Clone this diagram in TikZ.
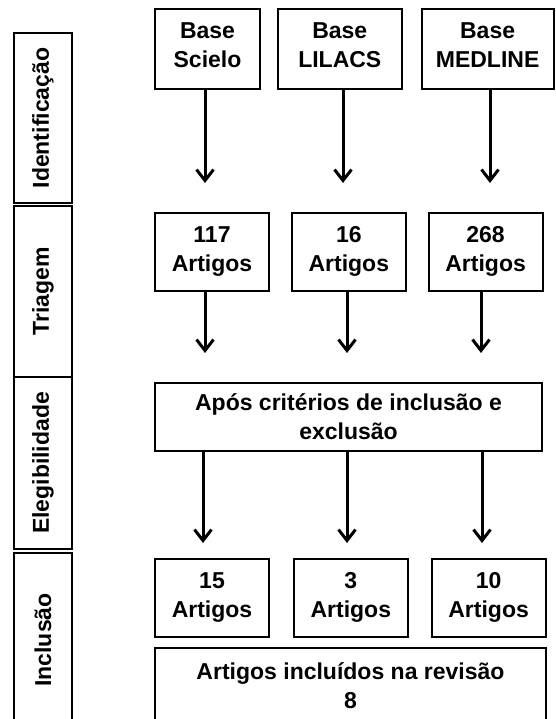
\documentclass[tikz,border=0pt]{standalone}
\usepackage{fontspec}
\setmainfont{Liberation Sans}
\usetikzlibrary{positioning,arrows.meta}
\tikzset{
	caixa/.style={draw, rectangle, line width=1.8pt, align=center, inner sep=0pt,
		font=\bfseries\fontsize{23}{29}\selectfont},
	artigo/.style={caixa, minimum width=114pt, minimum height=78pt, text height=46pt, text depth=8pt},
	etapa/.style={caixa, rotate=90, minimum height=58pt},
	seta/.style={line width=3pt, -{Straight Barb[length=11pt,width=17pt]}}
}
\begin{document}
\begin{tikzpicture}[x=1pt, y=-1pt, node distance=18pt and 20pt]
	\useasboundingbox (0,0) rectangle (555,719);
	\clip (0,0) rectangle (555,719);
	% Etapas a esquerda
	\node[etapa, minimum width=170pt] (ident) at (43,118) {Identificação};
	\node[etapa, minimum width=171pt] (triag) at (43,291.5) {Triagem};
	\node[etapa, minimum width=172pt] (eleg) at (43,463) {Elegibilidade};
	\node[etapa, minimum width=174pt] (incl) at (43,640) {Inclusão};
	%
	% Bases de dados
	\node[artigo, minimum width=105pt, minimum height=80pt] (scielo) at (207.5,49) {Base\\Scielo};
	\node[artigo, minimum width=124pt, minimum height=80pt, right=16pt of scielo] (lilacs) {Base\\LILACS};
	\node[artigo, minimum width=132pt, minimum height=80pt, right=18pt of lilacs] (medline) {Base\\MEDLINE};
	%
	% Triagem
	\node[artigo] (n117) at (212,252) {117\\Artigos};
	\node[artigo, right=21pt of n117] (n16) {16\\Artigos};
	\node[artigo, right=21pt of n16] (n268) {268\\Artigos};
	%
	% Elegibilidade
	\node[caixa, minimum width=387pt, minimum height=68pt] (apos) at (348.5,417) {Após critérios de inclusão e\\exclusão};
	%
	% Inclusao
	\node[artigo] (n15) at (212,598) {15\\Artigos};
	\node[artigo, right=23pt of n15] (n3) {3\\Artigos};
	\node[artigo, right=22pt of n3] (n10) {10\\Artigos};
	\node[caixa, minimum width=391pt, minimum height=76pt, below=9pt of n15.south west, anchor=north west] (final) {Artigos incluídos na revisão\\8};
	%
	% Pontas das setas
	\coordinate (pS) at (205,183);
	\coordinate (pL) at (343,183);
	\coordinate (pM) at (490,183);
	\coordinate (t1) at (205,353);
	\coordinate (t2) at (347,353);
	\coordinate (t3) at (481,353);
	\coordinate (e1) at (203,543);
	\coordinate (e2) at (347,543);
	\coordinate (e3) at (482,543);
	%
	% Setas
	\draw[seta] (scielo.south -| pS) -- (pS);
	\draw[seta] (lilacs.south -| pL) -- (pL);
	\draw[seta] (medline.south -| pM) -- (pM);
	\draw[seta] (n117.south -| t1) -- (t1);
	\draw[seta] (n16.south -| t2) -- (t2);
	\draw[seta] (n268.south -| t3) -- (t3);
	\draw[seta] (apos.south -| e1) -- (e1);
	\draw[seta] (apos.south -| e2) -- (e2);
	\draw[seta] (apos.south -| e3) -- (e3);
\end{tikzpicture}
\end{document}
